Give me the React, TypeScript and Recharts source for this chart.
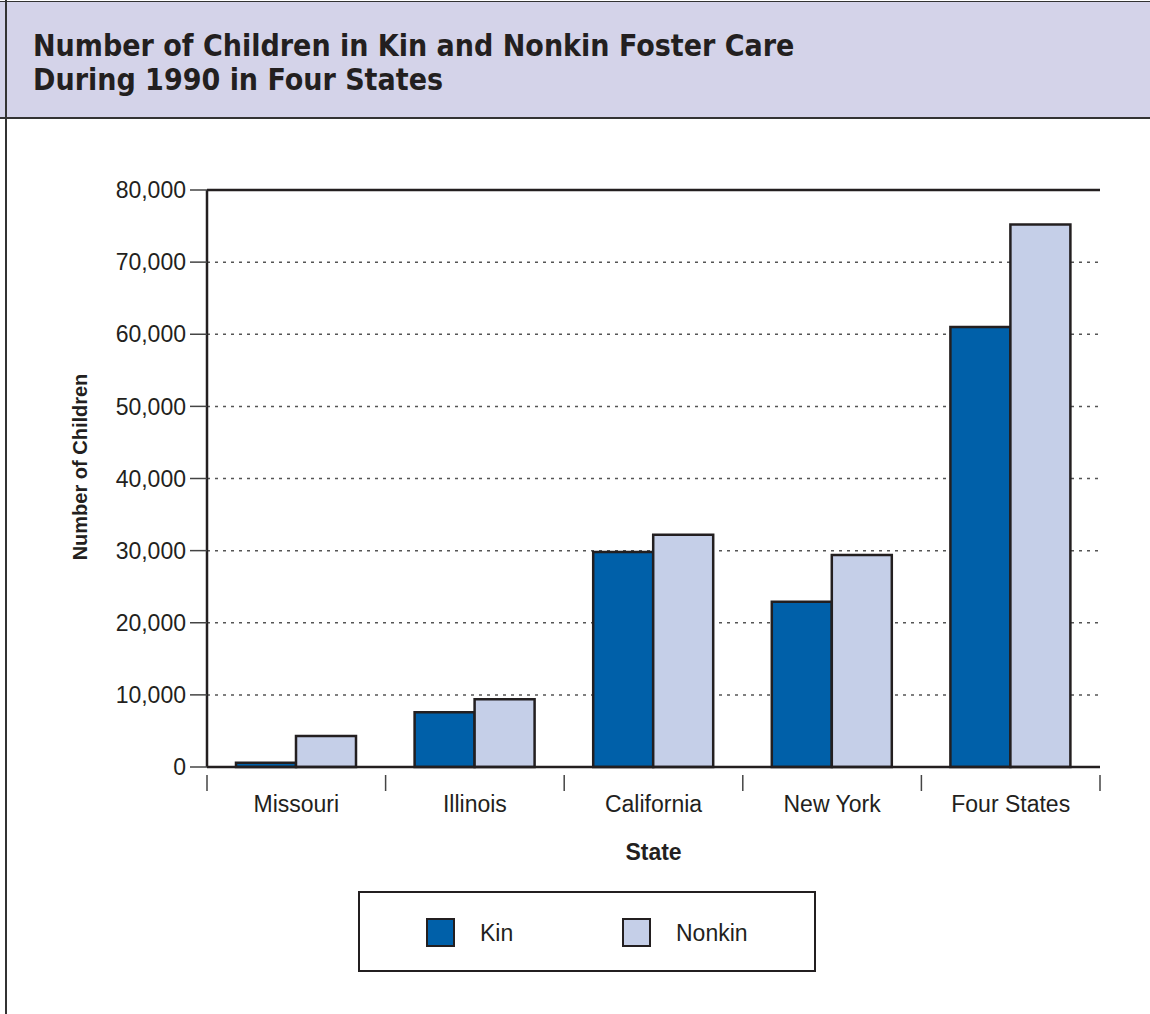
import React from "react";
import { Bar, BarChart, CartesianGrid, Label, ReferenceLine, XAxis, YAxis } from "recharts";

const states = ["Missouri", "Illinois", "California", "New York", "Four States"];
const kinCounts = [600, 7600, 29800, 22900, 61000];
const nonkinCounts = [4300, 9400, 32200, 29400, 75200];
const yTicks = [0, 10000, 20000, 30000, 40000, 50000, 60000, 70000, 80000];

const data = states.map((state, i) => ({ state, kin: kinCounts[i], nonkin: nonkinCounts[i] }));

const INK = "#231F20";
const KIN = "#0060A9";
const NONKIN = "#C5CFE8";
const SANS = "'Liberation Sans', Arial, Helvetica, sans-serif";

const PLOT_LEFT = 207;
const PLOT_RIGHT = 1100;
const BAND = (PLOT_RIGHT - PLOT_LEFT) / states.length;

function StateTick(props: any) {
  const { x, y, payload, index } = props;
  const left = x - BAND / 2;
  return (
    <g>
      <line x1={left} y1={y} x2={left} y2={y + 16} stroke="#444" strokeWidth={1.5} />
      {index === states.length - 1 ? (
        <line x1={left + BAND} y1={y} x2={left + BAND} y2={y + 16} stroke="#444" strokeWidth={1.5} />
      ) : null}
      <text x={x} y={y + 37} textAnchor="middle" fill={INK} fontSize={23} fontFamily={SANS}>
        {payload.value}
      </text>
    </g>
  );
}

function LegendBox() {
  const item = (left: number, color: string, label: string) => (
    <div style={{ position: "absolute", left, top: 25, display: "flex", alignItems: "center" }}>
      <div style={{ width: 25, height: 25, background: color, border: `2px solid ${INK}`, flex: "none" }} />
      <span style={{ marginLeft: 25, fontSize: 23, lineHeight: "28px", color: INK, fontFamily: SANS }}>{label}</span>
    </div>
  );
  return (
    <div
      style={{
        position: "absolute",
        left: 358,
        top: 891,
        width: 458,
        height: 81,
        boxSizing: "border-box",
        border: `2px solid ${INK}`,
        background: "#fff",
      }}
    >
      {item(66, KIN, "Kin")}
      {item(262, NONKIN, "Nonkin")}
    </div>
  );
}

export default function App() {
  return (
    <div style={{ position: "relative", width: 1150, height: 1014, background: "#fff", overflow: "hidden" }}>
      <style>{"body{margin:0}"}</style>
      <div
        style={{
          position: "absolute",
          left: 0,
          top: 1,
          width: 1150,
          height: 115,
          background: "#D4D3E9",
          borderTop: "1.5px solid #333",
          borderBottom: "2px solid #333",
        }}
      >
        <div
          style={{
            position: "absolute",
            left: 33,
            top: 27,
            fontFamily: "'DejaVu Sans Condensed', 'DejaVu Sans', sans-serif",
            fontWeight: "bold",
            fontSize: 30,
            lineHeight: "34px",
            color: INK,
          }}
        >
          Number of Children in Kin and Nonkin Foster Care
          <br />
          During 1990 in Four States
        </div>
      </div>
      <div style={{ position: "absolute", left: 5, top: 0, width: 1.5, height: 1014, background: "#333" }} />
      <div style={{ position: "absolute", left: 0, top: 0 }}>
        <BarChart
          width={1150}
          height={1014}
          data={data}
          margin={{ top: 190, right: 50, left: 107, bottom: 187 }}
          barSize={60}
          barGap={0}
        >
          <CartesianGrid yAxisId="left" vertical={false} stroke="#555" strokeDasharray="3 5" strokeWidth={1.5} />
          <XAxis
            dataKey="state"
            height={60}
            axisLine={{ stroke: INK, strokeWidth: 2.5 }}
            tickLine={false}
            tick={<StateTick />}
            interval={0}
          >
            <Label value="State" position="insideBottom" offset={-33} fill={INK} fontSize={23} fontWeight="bold" fontFamily={SANS} />
          </XAxis>
          <YAxis
            yAxisId="left"
            width={100}
            domain={[0, 80000]}
            ticks={yTicks}
            interval={0}
            tickFormatter={(v: number) => v.toLocaleString("en-US")}
            tick={{ fill: INK, fontSize: 23, fontFamily: SANS }}
            tickSize={17}
            tickMargin={4}
            tickLine={{ stroke: "#444", strokeWidth: 1.5 }}
            axisLine={{ stroke: INK, strokeWidth: 2.5 }}
          >
            <Label
              content={() => (
                <text
                  transform="translate(87 467) rotate(-90)"
                  textAnchor="middle"
                  fill={INK}
                  fontSize={20}
                  fontWeight="bold"
                  fontFamily={SANS}
                >
                  Number of Children
                </text>
              )}
            />
          </YAxis>
          <YAxis
            yAxisId="right"
            orientation="right"
            width={0}
            domain={[0, 80000]}
            tick={false}
            tickLine={false}
            axisLine={{ stroke: INK, strokeWidth: 2.5 }}
          />
          <ReferenceLine yAxisId="left" y={80000} stroke={INK} strokeWidth={2.5} />
          <Bar yAxisId="left" dataKey="kin" name="Kin" fill={KIN} stroke={INK} strokeWidth={2.5} isAnimationActive={false} />
          <Bar yAxisId="left" dataKey="nonkin" name="Nonkin" fill={NONKIN} stroke={INK} strokeWidth={2.5} isAnimationActive={false} />
        </BarChart>
      </div>
      <LegendBox />
    </div>
  );
}
